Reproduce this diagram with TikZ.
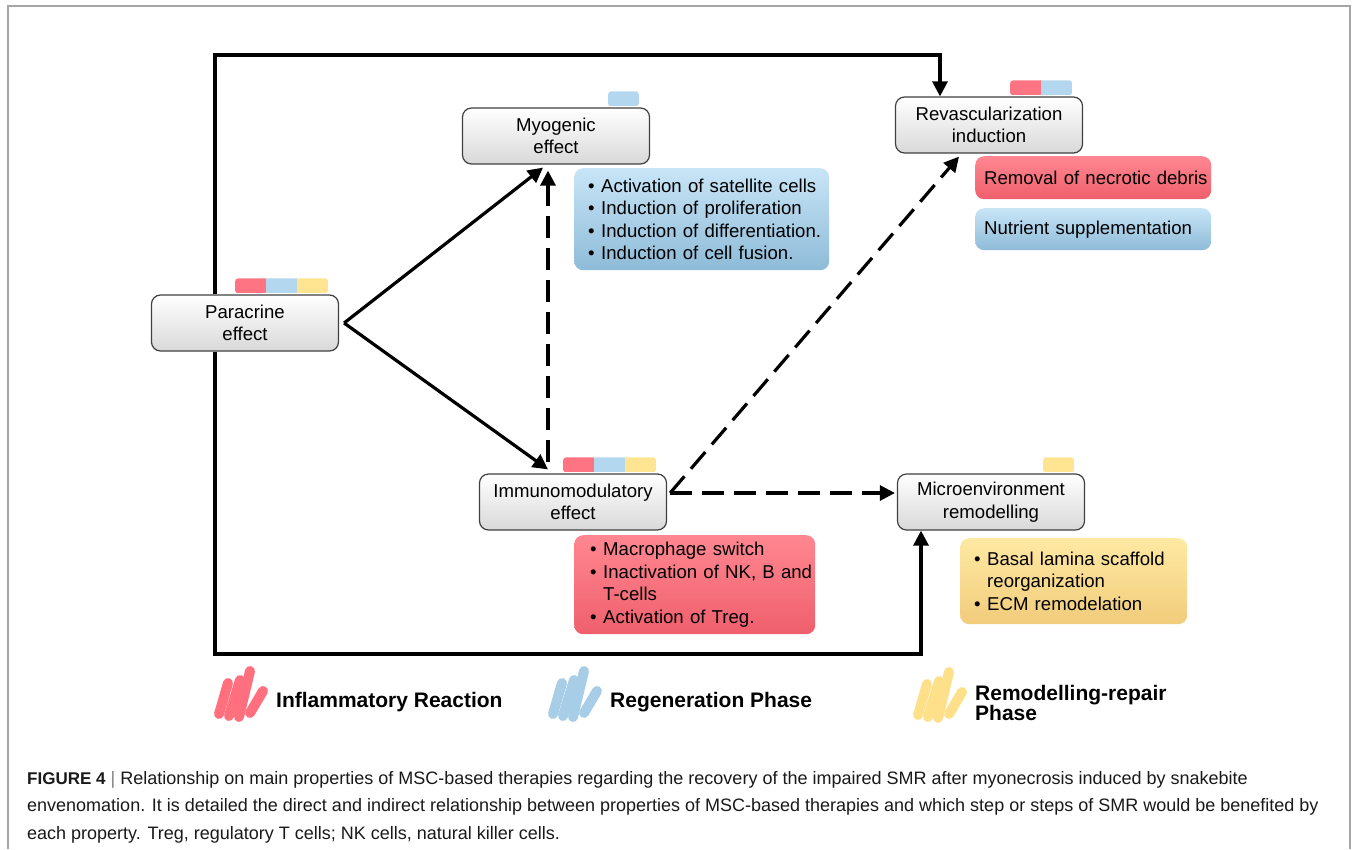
\documentclass[tikz,border=0pt]{standalone}
\usepackage{fontspec}
\setmainfont{Liberation Sans}
\usetikzlibrary{arrows.meta, positioning}

\definecolor{inflred}{HTML}{FF6F7D}
\definecolor{regenblue}{HTML}{A8CDE6}
\definecolor{remodyellow}{HTML}{FFE08A}
\definecolor{tabred}{HTML}{FF7482}
\definecolor{tabblue}{HTML}{B3D7EE}
\definecolor{tabyellow}{HTML}{FFE592}
\definecolor{redtop}{HTML}{FF8791}
\definecolor{redbot}{HTML}{EF5F6C}
\definecolor{bluetop}{HTML}{C8E5F7}
\definecolor{bluebot}{HTML}{8EBBD8}
\definecolor{yellowtop}{HTML}{FFE9A3}
\definecolor{yellowbot}{HTML}{F1CC7B}

\tikzstyle{effect} = [rectangle, rounded corners=9pt, minimum width=187pt, minimum height=56pt, align=center, draw=black!75, line width=1.2pt, top color=white, bottom color=black!15, font=\fontsize{18.6}{22.5}\selectfont]
\tikzstyle{infobox} = [rectangle, rounded corners=9pt, anchor=north west, align=left, inner xsep=6pt, inner ysep=0pt, font=\fontsize{18.6}{22.5}\selectfont]
\tikzstyle{redbox} = [infobox, top color=redtop, bottom color=redbot]
\tikzstyle{bluebox} = [infobox, top color=bluetop, bottom color=bluebot]
\tikzstyle{yellowbox} = [infobox, top color=yellowtop, bottom color=yellowbot]
\tikzstyle{legtext} = [anchor=west, inner sep=0pt, align=left, font=\fontsize{21}{19.5}\selectfont\bfseries]
\tikzstyle{arrow} = [line width=3.2pt, ->, >={Triangle[length=15pt,width=15pt]}]
\tikzstyle{dasharrow} = [arrow, dash pattern=on 22pt off 10pt]

\newcommand{\bul}{\hspace*{8pt}\makebox[13pt][l]{\textbullet}}
\newcommand{\phasetab}[3]{% node, segments, colours
  \begin{scope}
    \clip[rounded corners=3pt] ([shift={(-11-31*#2,-16)}]#1.north east) rectangle ([shift={(-11,-1)}]#1.north east);
    \foreach \col [count=\i] in {#3}
      \fill[\col] ([shift={(-11-31*#2+31*\i-31,-16)}]#1.north east) rectangle +(31,15);
  \end{scope}}
\newcommand{\scribble}[2]{% legend node, colour
  \foreach \xa/\ya/\xb/\yb in {-57/12/-48/-19, -47/14/-36/-22, -37/15/-26/-31, -26/11/-13/-11}
    \draw[#2, line width=10pt, line cap=round] ([shift={(\xa,\ya)}]#1.west) -- ([shift={(\xb,\yb)}]#1.west);}

\begin{document}
\begin{tikzpicture}[x=1pt, y=-1pt]
	\useasboundingbox (0,0) rectangle (1356,849);
	\draw[black!35, line width=1.2pt] (8,849) -- (8,6) -- (1350,6) -- (1350,849);

	% properties
	\node (para) [effect] at (245,323) {Paracrine\\effect};
	\node (myo) [effect] at (556,136) {Myogenic\\effect};
	\node (revasc) [effect] at (989,125) {Revascularization\\induction};
	\node (immuno) [effect] at (573,502) {Immunomodulatory\\effect};
	\node (micro) [effect] at (991,502) {Microenvironment\\remodelling};

	\phasetab{para}{3}{tabred,tabblue,tabyellow}
	\phasetab{myo}{1}{tabblue}
	\phasetab{revasc}{2}{tabred,tabblue}
	\phasetab{immuno}{3}{tabred,tabblue,tabyellow}
	\phasetab{micro}{1}{tabyellow}

	% details
	\node (myolist) [bluebox, minimum width=255pt, minimum height=102pt, text width=243pt] at (574,168) {\bul Activation of satellite cells\\\bul Induction of proliferation\\\bul Induction of differentiation.\\\bul Induction of cell fusion.};
	\node (debris) [redbox, minimum width=236pt, minimum height=43pt, text width=218pt, inner xsep=9pt] at (975,156) {\mbox{Removal of necrotic debris}};
	\node (nutrient) [bluebox, minimum width=236pt, minimum height=42pt, text width=218pt, inner xsep=9pt] at (975,208) {Nutrient supplementation};
	\node (immunolist) [redbox, minimum width=241pt, minimum height=99pt, text width=229pt] at (574,535) {\hspace*{2pt}\bul Macrophage switch\\\mbox{\hspace*{2pt}\bul Inactivation of NK, B and}\\\hspace*{23pt}T-cells\\\hspace*{2pt}\bul Activation of Treg.};
	\node (microlist) [yellowbox, minimum width=227pt, minimum height=86pt, text width=215pt] at (960,538) {\bul Basal lamina scaffold\\\hspace*{21pt}reorganization\\\bul ECM remodelation};

	% connectors
	\coordinate (tl) at (215,55);
	\coordinate (tr) at (940,55);
	\coordinate (bl) at (215,654);
	\coordinate (br) at (921,654);
	\coordinate (parafork) at ([shift={(5,0)}]para.east);
	\coordinate (imfork) at ([shift={(3,-9)}]immuno.east);
	\draw [arrow] (para.north -| tl) -- (tl) -- (tr) -- (revasc.north -| tr);
	\draw [arrow] (para.south -| bl) -- (bl) -- (br) -- (micro.south -| br);
	\draw [arrow] (parafork) -- ([shift={(-13,3)}]myo.south);
	\draw [arrow] (parafork) -- ([shift={(-25,-4)}]immuno.north);
	\draw [dasharrow] ([shift={(-25,-11)}]immuno.north) -- ([shift={(-8,6)}]myo.south);
	\draw [dasharrow] (imfork) -- ([shift={(-30,3)}]revasc.south);
	\draw [dasharrow, shorten >=2pt] (imfork) -- (imfork -| micro.west);

	% legend
	\node (inflleg) [legtext] at (276,702) {Inflammatory Reaction};
	\node (regenleg) [legtext] at (610,702) {Regeneration Phase};
	\node (remodleg) [legtext] at (975,703) {Remodelling-repair\\Phase};
	\scribble{inflleg}{inflred}
	\scribble{regenleg}{regenblue}
	\scribble{remodleg}{remodyellow}

	\node (caption) [anchor=north west, inner sep=0pt, align=left, text=black!90, font=\fontsize{18}{27.5}\selectfont] at (27,771) {{\fontsize{17}{27.5}\selectfont\bfseries FIGURE 4} \textcolor{black!50}{|} Relationship on main properties of MSC-based therapies regarding the recovery of the impaired SMR after myonecrosis induced by snakebite\\envenomation. It is detailed the direct and indirect relationship between properties of MSC-based therapies and which step or steps of SMR would be benefited by\\each property. Treg, regulatory T cells; NK cells, natural killer cells.};
\end{tikzpicture}
\end{document}
